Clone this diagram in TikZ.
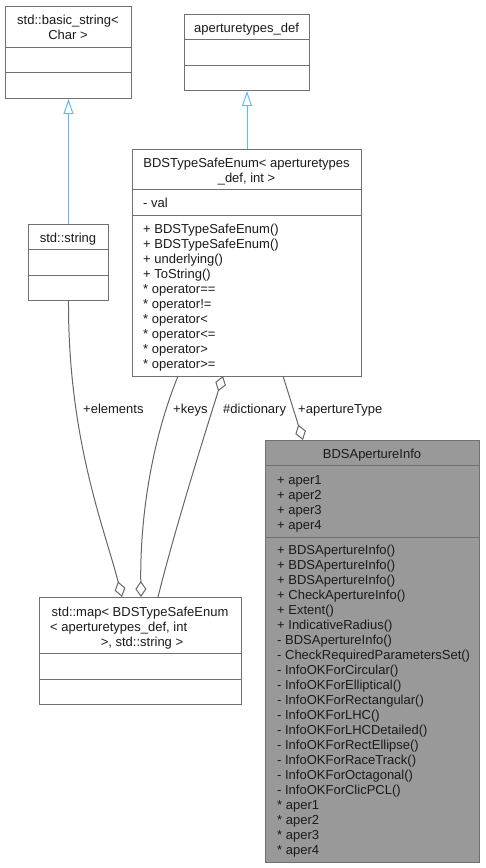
\documentclass[tikz,border=0pt]{standalone}
\usepackage{fontspec}
\setmainfont{Liberation Sans}
\usetikzlibrary{arrows.meta}
\definecolor{edgegray}{HTML}{666666}
\definecolor{boxborder}{HTML}{707070}
\definecolor{focalfill}{HTML}{999999}
\definecolor{inhblue}{HTML}{63B8FF}
\definecolor{txtcol}{HTML}{1A1A1A}
\newcommand\dgfont{\fontsize{13}{15}\selectfont}
\begin{document}
\begin{tikzpicture}[x=1pt,y=-1pt,
  box/.style={draw=boxborder, line width=1pt, fill=white, inner sep=0pt, anchor=north west},
  focal/.style={box, fill=focalfill},
  sepline/.style={draw=boxborder, line width=1pt},
  txt/.style={inner sep=0pt, anchor=base west, font=\dgfont, text=txtcol},
  ctxt/.style={inner sep=0pt, anchor=base, font=\dgfont, text=txtcol},
  inherit/.style={draw=inhblue, line width=1pt, -{Triangle[open, length=15pt, width=10pt]}},
  usage/.style={draw=edgegray, line width=1pt, -{Diamond[open, length=16pt, width=11pt]}},
  elabel/.style={inner sep=0pt, anchor=base west, font=\dgfont, text=txtcol}]
\useasboundingbox (0,0) rectangle (485,868);

% std::basic_string< Char >
\node[box, minimum width=126pt, minimum height=92pt] (bs) at (5,6) {};
\draw[sepline] (5,47) -- (131,47);
\draw[sepline] (5,72) -- (131,72);
\node[ctxt] (bsT1) at (68,24.5) {std::basic\_string<};
\node[ctxt] (bsT2) at (68,39.5) {Char >};

% aperturetypes_def
\node[box, minimum width=125pt, minimum height=76pt] (atd) at (184,14) {};
\draw[sepline] (184,39) -- (309,39);
\draw[sepline] (184,65) -- (309,65);
\node[ctxt] (atdT) at (246.5,32.5) {aperturetypes\_def};

% BDSTypeSafeEnum
\node[box, minimum width=229pt, minimum height=227pt] (enum) at (132,149) {};
\draw[sepline] (132,189) -- (361,189);
\draw[sepline] (132,215) -- (361,215);
\node[ctxt] (enT1) at (246.5,167.5) {BDSTypeSafeEnum< aperturetypes};
\node[ctxt] (enT2) at (246.5,182.5) {\_def, int >};
\node[txt] (enA1) at (143,207) {- val};
\node[txt] (enM1) at (143,233) {+ BDSTypeSafeEnum()};
\node[txt] (enM2) at (143,248) {+ BDSTypeSafeEnum()};
\node[txt] (enM3) at (143,263) {+ underlying()};
\node[txt] (enM4) at (143,278) {+ ToString()};
\node[txt] (enM5) at (143,293) {* operator==};
\node[txt] (enM6) at (143,308) {* operator!=};
\node[txt] (enM7) at (143,323) {* operator<};
\node[txt] (enM8) at (143,338) {* operator<=};
\node[txt] (enM9) at (143,353) {* operator>};
\node[txt] (enM10) at (143,368) {* operator>=};

% std::string
\node[box, minimum width=80pt, minimum height=76pt] (str) at (28,224) {};
\draw[sepline] (28,249) -- (108,249);
\draw[sepline] (28,275) -- (108,275);
\node[ctxt] (strT) at (68,242.5) {std::string};

% BDSApertureInfo
\node[focal, minimum width=214pt, minimum height=422pt] (info) at (265,440) {};
\draw[sepline] (265,465) -- (479,465);
\draw[sepline] (265,537) -- (479,537);
\node[ctxt] (inT) at (372,458.5) {BDSApertureInfo};
\node[txt] (inA1) at (277,484) {+ aper1};
\node[txt] (inA2) at (277,499) {+ aper2};
\node[txt] (inA3) at (277,514) {+ aper3};
\node[txt] (inA4) at (277,529) {+ aper4};
\node[txt] (inM1) at (277,554) {+ BDSApertureInfo()};
\node[txt] (inM2) at (277,569) {+ BDSApertureInfo()};
\node[txt] (inM3) at (277,584) {+ BDSApertureInfo()};
\node[txt] (inM4) at (277,599) {+ CheckApertureInfo()};
\node[txt] (inM5) at (277,614) {+ Extent()};
\node[txt] (inM6) at (277,629) {+ IndicativeRadius()};
\node[txt] (inM7) at (277,644) {- BDSApertureInfo()};
\node[txt] (inM8) at (277,659) {- CheckRequiredParametersSet()};
\node[txt] (inM9) at (277,674) {- InfoOKForCircular()};
\node[txt] (inM10) at (277,689) {- InfoOKForElliptical()};
\node[txt] (inM11) at (277,704) {- InfoOKForRectangular()};
\node[txt] (inM12) at (277,719) {- InfoOKForLHC()};
\node[txt] (inM13) at (277,734) {- InfoOKForLHCDetailed()};
\node[txt] (inM14) at (277,749) {- InfoOKForRectEllipse()};
\node[txt] (inM15) at (277,764) {- InfoOKForRaceTrack()};
\node[txt] (inM16) at (277,779) {- InfoOKForOctagonal()};
\node[txt] (inM17) at (277,794) {- InfoOKForClicPCL()};
\node[txt] (inM18) at (277,809) {* aper1};
\node[txt] (inM19) at (277,824) {* aper2};
\node[txt] (inM20) at (277,839) {* aper3};
\node[txt] (inM21) at (277,854) {* aper4};

% std::map
\node[box, minimum width=202pt, minimum height=107pt] (map) at (39,597) {};
\draw[sepline] (39,653) -- (241,653);
\draw[sepline] (39,679) -- (241,679);
\node[ctxt] (mapT1) at (140,616) {std::map< BDSTypeSafeEnum};
\node[txt] (mapT2) at (50,631) {< aperturetypes\_def, int};
\node[ctxt] (mapT3) at (142,646) {>, std::string >};

% connector end points
\coordinate (mapElem) at (122,597);
\coordinate (mapKeys) at (141,597);
\coordinate (mapDict) at (158,597);
\coordinate (enumKeys) at (178,376);
\coordinate (enumDict) at (223,376);
\coordinate (enumAper) at (283,376);
\coordinate (infoAper) at (303,440);

% inheritance
\draw[inherit] (str.north) -- (bs.south);
\draw[inherit] (enum.north) -- (atd.south);

% usage
\draw[usage] (str.south) .. controls (68,440) and (105,530) .. (mapElem);
\draw[usage] (enumKeys) .. controls (148,450) and (140,530) .. (mapKeys);
\draw[usage] (mapDict) .. controls (176,525) and (206,430) .. (enumDict);
\draw[usage] (enumAper) -- (infoAper);

% labels
\node[elabel] (lElem) at (83,413) {+elements};
\node[elabel] (lKeys) at (173,413) {+keys};
\node[elabel] (lDict) at (223,413) {\#dictionary};
\node[elabel] (lAper) at (298,413) {+apertureType};
\end{tikzpicture}
\end{document}
